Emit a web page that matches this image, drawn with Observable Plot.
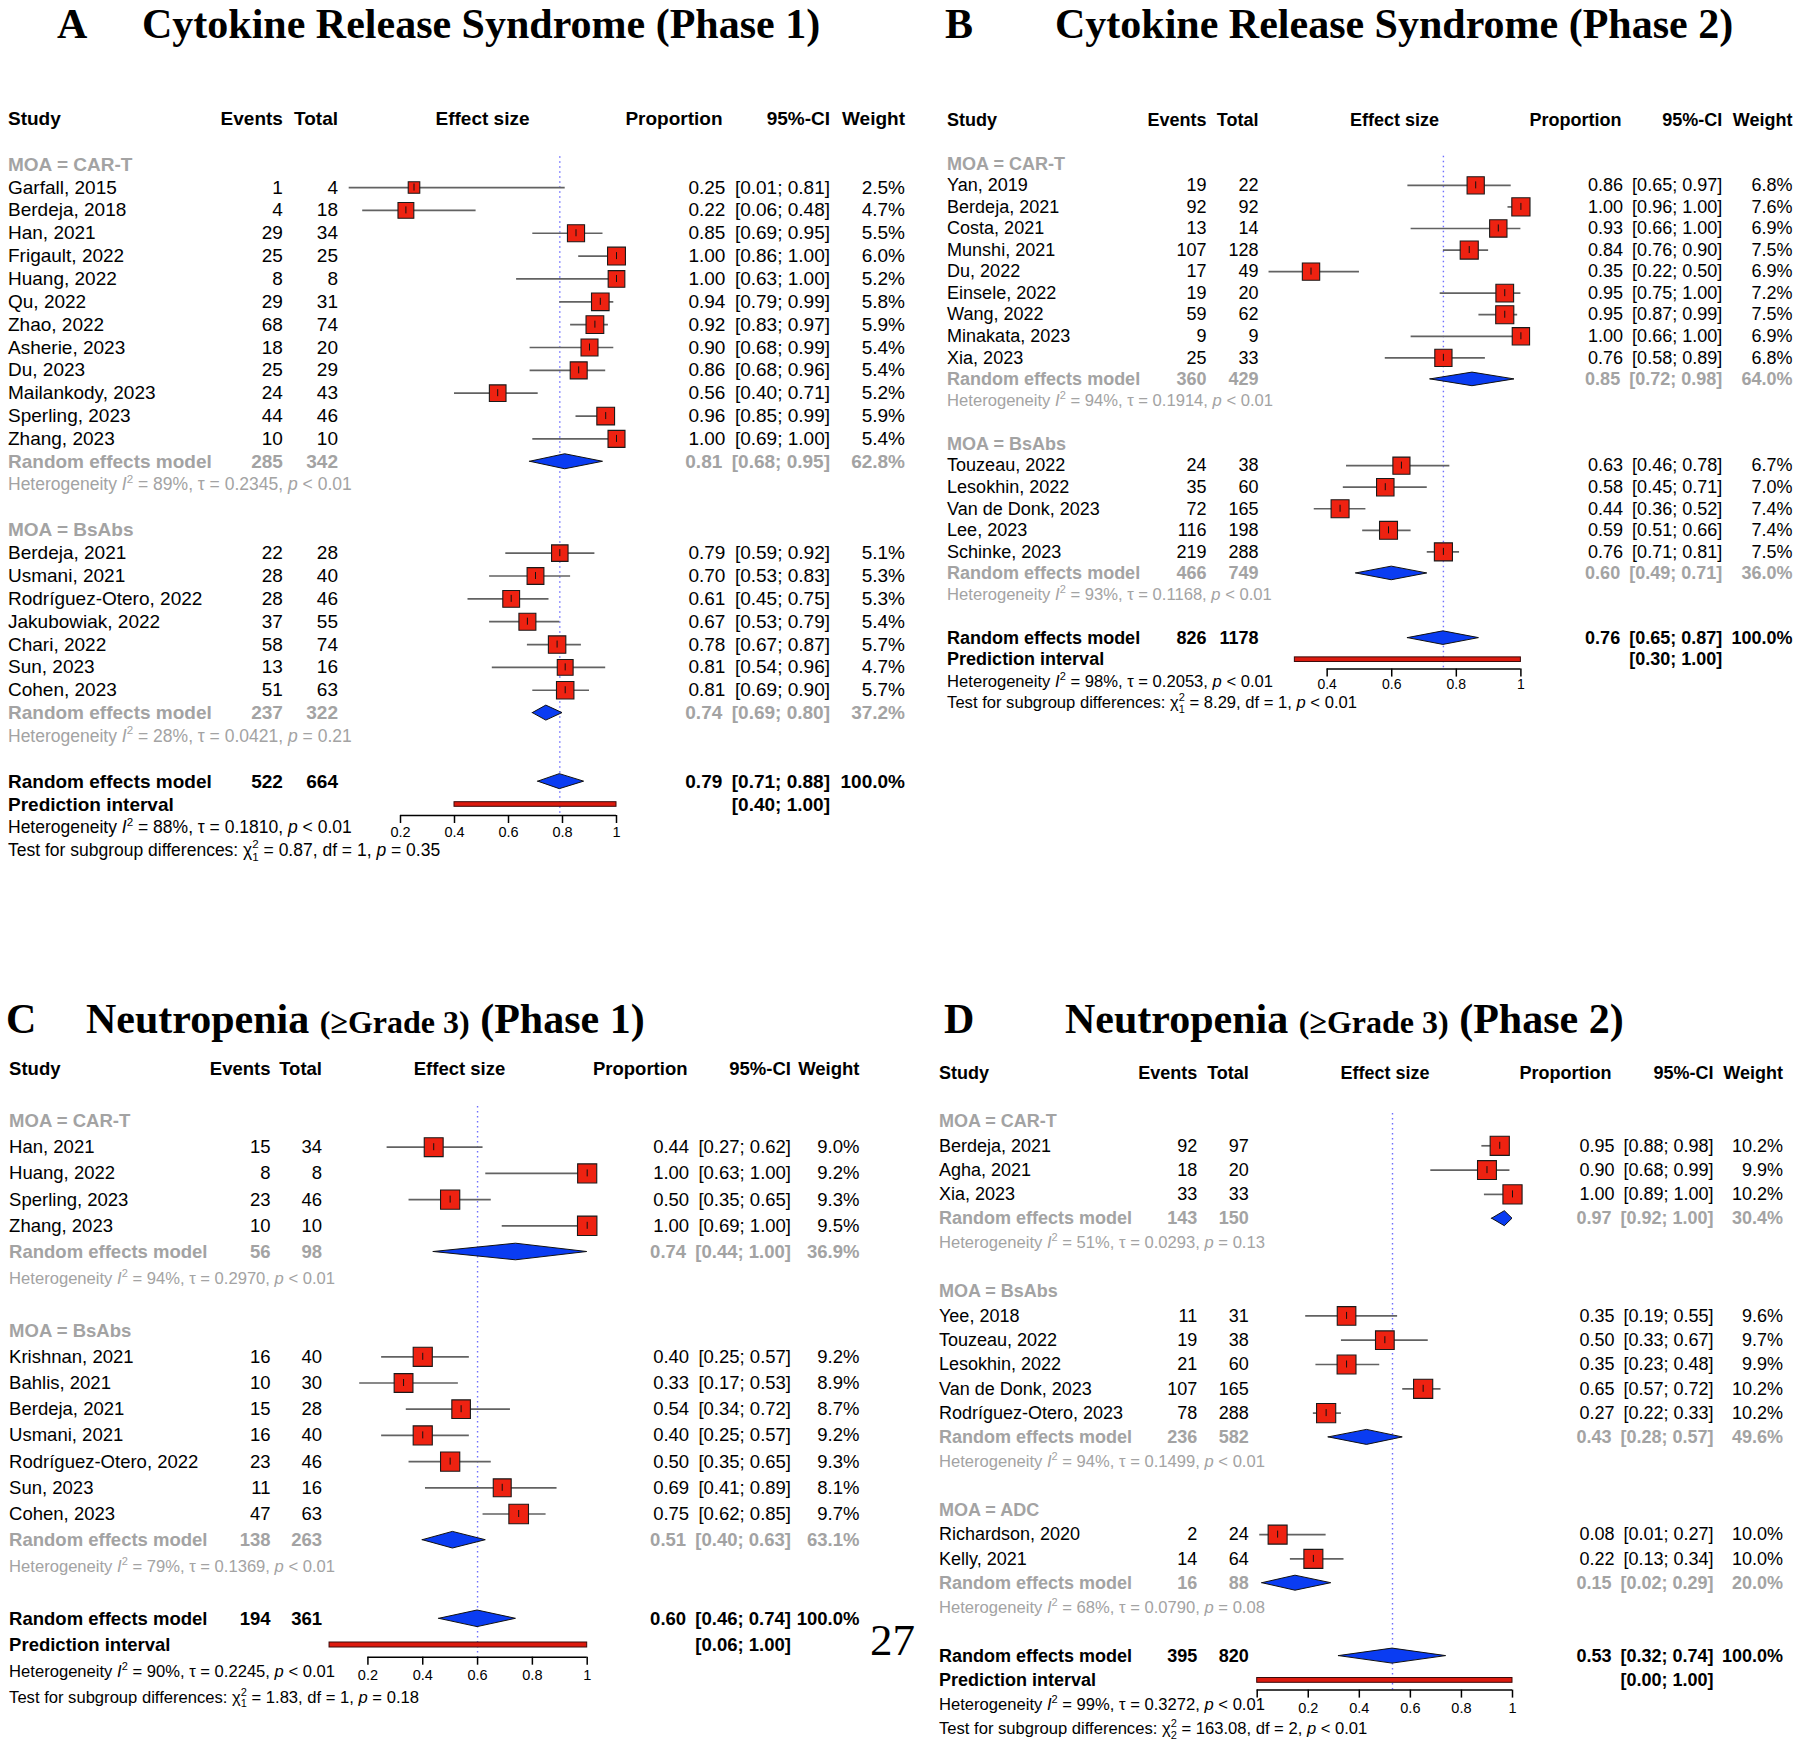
<!DOCTYPE html>
<html>
<head>
<meta charset="utf-8">
<script src="https://cdn.jsdelivr.net/npm/d3@7"></script>
<script src="https://cdn.jsdelivr.net/npm/@observablehq/plot@0.6"></script>
<style>
  body { margin: 0; background: #fff; }
  #page { position: relative; width: 1800px; height: 1746px; overflow: hidden; background: #fff; }
  .ttl { position: absolute; font-family: "Liberation Serif", "Times New Roman", serif; font-weight: bold;
         font-size: 42px; line-height: 38px; white-space: nowrap; color: #000; }
  .pageno { position: absolute; font-family: "Liberation Serif", "Times New Roman", serif; font-size: 45px;
            line-height: 54px; color: #000; }
  .pnl { position: absolute; }
</style>
</head>
<body>
<div id="page"></div>
<script>
// ================= DATA =================
// ---- Panel A: Cytokine Release Syndrome (Phase 1)
const A_study = ["Garfall, 2015","Berdeja, 2018","Han, 2021","Frigault, 2022","Huang, 2022","Qu, 2022","Zhao, 2022","Asherie, 2023","Du, 2023","Mailankody, 2023","Sperling, 2023","Zhang, 2023",
                 "Berdeja, 2021","Usmani, 2021","Rodríguez-Otero, 2022","Jakubowiak, 2022","Chari, 2022","Sun, 2023","Cohen, 2023"];
const A_moa = ["CAR-T","CAR-T","CAR-T","CAR-T","CAR-T","CAR-T","CAR-T","CAR-T","CAR-T","CAR-T","CAR-T","CAR-T",
               "BsAbs","BsAbs","BsAbs","BsAbs","BsAbs","BsAbs","BsAbs"];
const A_events = [1,4,29,25,8,29,68,18,25,24,44,10, 22,28,28,37,58,13,51];
const A_total  = [4,18,34,25,8,31,74,20,29,43,46,10, 28,40,46,55,74,16,63];
const A_prop   = [0.25,0.22,0.85,1.00,1.00,0.94,0.92,0.90,0.86,0.56,0.96,1.00, 0.79,0.70,0.61,0.67,0.78,0.81,0.81];
const A_lower  = [0.01,0.06,0.69,0.86,0.63,0.79,0.83,0.68,0.68,0.40,0.85,0.69, 0.59,0.53,0.45,0.53,0.67,0.54,0.69];
const A_upper  = [0.81,0.48,0.95,1.00,1.00,0.99,0.97,0.99,0.96,0.71,0.99,1.00, 0.92,0.83,0.75,0.79,0.87,0.96,0.90];
const A_weight = [2.5,4.7,5.5,6.0,5.2,5.8,5.9,5.4,5.4,5.2,5.9,5.4, 5.1,5.3,5.3,5.4,5.7,4.7,5.7];
const A_groups = ["CAR-T","BsAbs"];
const A_groupEvents = [285,237], A_groupTotal = [342,322];
const A_groupProp = [0.81,0.74], A_groupLower = [0.68,0.69], A_groupUpper = [0.95,0.80];
const A_groupWeight = [62.8,37.2];
const A_groupI2 = [89,28], A_groupTau = ["0.2345","0.0421"], A_groupP = ["< 0.01","= 0.21"];
const A_overall = [522,664,0.79,0.71,0.88];      // events, total, proportion, lower, upper
const A_predict = [0.40,1.00];
const A_overallHet = [88,"0.1810","< 0.01"];      // I2, tau, p
const A_subgroupTest = ["0.87",1,"= 0.35"];       // chi2, df, p
const A_ticks = [0.2,0.4,0.6,0.8,1];
const A_tickLabels = [0.2,0.4,0.6,0.8,1];

// ---- Panel B: Cytokine Release Syndrome (Phase 2)
const B_study = ["Yan, 2019","Berdeja, 2021","Costa, 2021","Munshi, 2021","Du, 2022","Einsele, 2022","Wang, 2022","Minakata, 2023","Xia, 2023",
                 "Touzeau, 2022","Lesokhin, 2022","Van de Donk, 2023","Lee, 2023","Schinke, 2023"];
const B_moa = ["CAR-T","CAR-T","CAR-T","CAR-T","CAR-T","CAR-T","CAR-T","CAR-T","CAR-T","BsAbs","BsAbs","BsAbs","BsAbs","BsAbs"];
const B_events = [19,92,13,107,17,19,59,9,25, 24,35,72,116,219];
const B_total  = [22,92,14,128,49,20,62,9,33, 38,60,165,198,288];
const B_prop   = [0.86,1.00,0.93,0.84,0.35,0.95,0.95,1.00,0.76, 0.63,0.58,0.44,0.59,0.76];
const B_lower  = [0.65,0.96,0.66,0.76,0.22,0.75,0.87,0.66,0.58, 0.46,0.45,0.36,0.51,0.71];
const B_upper  = [0.97,1.00,1.00,0.90,0.50,1.00,0.99,1.00,0.89, 0.78,0.71,0.52,0.66,0.81];
const B_weight = [6.8,7.6,6.9,7.5,6.9,7.2,7.5,6.9,6.8, 6.7,7.0,7.4,7.4,7.5];
const B_groups = ["CAR-T","BsAbs"];
const B_groupEvents = [360,466], B_groupTotal = [429,749];
const B_groupProp = [0.85,0.60], B_groupLower = [0.72,0.49], B_groupUpper = [0.98,0.71];
const B_groupWeight = [64.0,36.0];
const B_groupI2 = [94,93], B_groupTau = ["0.1914","0.1168"], B_groupP = ["< 0.01","< 0.01"];
const B_overall = [826,1178,0.76,0.65,0.87];
const B_predict = [0.30,1.00];
const B_overallHet = [98,"0.2053","< 0.01"];
const B_subgroupTest = ["8.29",1,"< 0.01"];
const B_ticks = [0.4,0.6,0.8,1];
const B_tickLabels = [0.4,0.6,0.8,1];

// ---- Panel C: Neutropenia (>=Grade 3) (Phase 1)
const C_study = ["Han, 2021","Huang, 2022","Sperling, 2023","Zhang, 2023",
                 "Krishnan, 2021","Bahlis, 2021","Berdeja, 2021","Usmani, 2021","Rodríguez-Otero, 2022","Sun, 2023","Cohen, 2023"];
const C_moa = ["CAR-T","CAR-T","CAR-T","CAR-T","BsAbs","BsAbs","BsAbs","BsAbs","BsAbs","BsAbs","BsAbs"];
const C_events = [15,8,23,10, 16,10,15,16,23,11,47];
const C_total  = [34,8,46,10, 40,30,28,40,46,16,63];
const C_prop   = [0.44,1.00,0.50,1.00, 0.40,0.33,0.54,0.40,0.50,0.69,0.75];
const C_lower  = [0.27,0.63,0.35,0.69, 0.25,0.17,0.34,0.25,0.35,0.41,0.62];
const C_upper  = [0.62,1.00,0.65,1.00, 0.57,0.53,0.72,0.57,0.65,0.89,0.85];
const C_weight = [9.0,9.2,9.3,9.5, 9.2,8.9,8.7,9.2,9.3,8.1,9.7];
const C_groups = ["CAR-T","BsAbs"];
const C_groupEvents = [56,138], C_groupTotal = [98,263];
const C_groupProp = [0.74,0.51], C_groupLower = [0.44,0.40], C_groupUpper = [1.00,0.63];
const C_groupWeight = [36.9,63.1];
const C_groupI2 = [94,79], C_groupTau = ["0.2970","0.1369"], C_groupP = ["< 0.01","< 0.01"];
const C_overall = [194,361,0.60,0.46,0.74];
const C_predict = [0.06,1.00];
const C_overallHet = [90,"0.2245","< 0.01"];
const C_subgroupTest = ["1.83",1,"= 0.18"];
const C_ticks = [0.2,0.4,0.6,0.8,1];
const C_tickLabels = [0.2,0.4,0.6,0.8,1];

// ---- Panel D: Neutropenia (>=Grade 3) (Phase 2)
const D_study = ["Berdeja, 2021","Agha, 2021","Xia, 2023",
                 "Yee, 2018","Touzeau, 2022","Lesokhin, 2022","Van de Donk, 2023","Rodríguez-Otero, 2023",
                 "Richardson, 2020","Kelly, 2021"];
const D_moa = ["CAR-T","CAR-T","CAR-T","BsAbs","BsAbs","BsAbs","BsAbs","BsAbs","ADC","ADC"];
const D_events = [92,18,33, 11,19,21,107,78, 2,14];
const D_total  = [97,20,33, 31,38,60,165,288, 24,64];
const D_prop   = [0.95,0.90,1.00, 0.35,0.50,0.35,0.65,0.27, 0.08,0.22];
const D_lower  = [0.88,0.68,0.89, 0.19,0.33,0.23,0.57,0.22, 0.01,0.13];
const D_upper  = [0.98,0.99,1.00, 0.55,0.67,0.48,0.72,0.33, 0.27,0.34];
const D_weight = [10.2,9.9,10.2, 9.6,9.7,9.9,10.2,10.2, 10.0,10.0];
const D_groups = ["CAR-T","BsAbs","ADC"];
const D_groupEvents = [143,236,16], D_groupTotal = [150,582,88];
const D_groupProp = [0.97,0.43,0.15], D_groupLower = [0.92,0.28,0.02], D_groupUpper = [1.00,0.57,0.29];
const D_groupWeight = [30.4,49.6,20.0];
const D_groupI2 = [51,94,68], D_groupTau = ["0.0293","0.1499","0.0790"], D_groupP = ["= 0.13","< 0.01","= 0.08"];
const D_overall = [395,820,0.53,0.32,0.74];
const D_predict = [0.00,1.00];
const D_overallHet = [99,"0.3272","< 0.01"];
const D_subgroupTest = ["163.08",2,"< 0.01"];
const D_ticks = [0,0.2,0.4,0.6,0.8,1];
const D_tickLabels = [0.2,0.4,0.6,0.8,1];

// ================= STYLE =================
const FONT = '"Liberation Sans", Arial, Helvetica, sans-serif';
const GRAY = "#a3a3a3", RED = "#ee2211", BLUE = "#0a3cf2", DOTC = "#6e6eff", CIC = "#626262";

// ================= HELPERS =================
const f2 = v => v.toFixed(2);
const ciText = (e, l, h) => `${f2(e)}\u2002[${f2(l)}; ${f2(h)}]`;
const hetText = (i2, tau, p) => `Heterogeneity I² = ${i2}%, τ = ${tau}, p ${p}`;
const SUBS = {1: "₁", 2: "₂", 3: "₃"};
const testText = t => `Test for subgroup differences: χ²${SUBS[t[1]]} = ${t[0]}, df = ${t[1]}, p ${t[2]}`;

function panelData(p) {
  const g = n => eval(p + "_" + n);
  return {
    study: g("study"), moa: g("moa"), events: g("events"), total: g("total"), prop: g("prop"),
    lower: g("lower"), upper: g("upper"), weight: g("weight"), groups: g("groups"),
    gEvents: g("groupEvents"), gTotal: g("groupTotal"), gProp: g("groupProp"), gLower: g("groupLower"),
    gUpper: g("groupUpper"), gWeight: g("groupWeight"), gI2: g("groupI2"), gTau: g("groupTau"), gP: g("groupP"),
    overall: g("overall"), predict: g("predict"), het: g("overallHet"), test: g("subgroupTest"),
    ticks: g("ticks"), tickLabels: g("tickLabels")
  };
}

function buildRows(P) {
  const rows = [];
  let r = 0;
  P.groups.forEach((grp, gi) => {
    rows.push({row: r++, kind: "ghead", label: "MOA = " + grp});
    P.study.forEach((s, i) => {
      if (P.moa[i] !== grp) return;
      rows.push({row: r++, kind: "study", label: s, events: P.events[i], total: P.total[i],
        est: P.prop[i], lo: P.lower[i], hi: P.upper[i], w: P.weight[i],
        ci: ciText(P.prop[i], P.lower[i], P.upper[i]), wt: P.weight[i].toFixed(1) + "%"});
    });
    rows.push({row: r++, kind: "gsum", label: "Random effects model", events: P.gEvents[gi], total: P.gTotal[gi],
      est: P.gProp[gi], lo: P.gLower[gi], hi: P.gUpper[gi],
      ci: ciText(P.gProp[gi], P.gLower[gi], P.gUpper[gi]), wt: P.gWeight[gi].toFixed(1) + "%"});
    rows.push({row: r++, kind: "ghet", label: hetText(P.gI2[gi], P.gTau[gi], P.gP[gi])});
    r++; // blank spacer row
  });
  const o = P.overall;
  rows.push({row: r++, kind: "all", label: "Random effects model", events: o[0], total: o[1],
    est: o[2], lo: o[3], hi: o[4], ci: ciText(o[2], o[3], o[4]), wt: "100.0%"});
  rows.push({row: r++, kind: "pred", label: "Prediction interval", lo: P.predict[0], hi: P.predict[1],
    ci: `[${f2(P.predict[0])}; ${f2(P.predict[1])}]`});
  rows.push({row: r++, kind: "het", label: hetText(P.het[0], P.het[1], P.het[2])});
  rows.push({row: r++, kind: "test", label: testText(P.test)});
  return rows;
}

function richify(el, fs) {
  const s = el.textContent;
  const parts = s.split(/(I²|χ²[₁₂₃]|\bp\b)/);
  const NS = "http://www.w3.org/2000/svg";
  el.textContent = "";
  let cur = 0;
  const span = (txt, off, attrs = {}) => {
    const t = document.createElementNS(NS, "tspan");
    t.setAttribute("dy", (off - cur).toFixed(2));
    cur = off;
    for (const k in attrs) t.setAttribute(k, attrs[k]);
    t.textContent = txt;
    el.appendChild(t);
  };
  const small = (0.66 * fs).toFixed(1);
  for (const part of parts) {
    if (!part) continue;
    if (part === "I²") {
      span("I", 0, {"font-style": "italic"});
      span("2", -0.42 * fs, {"font-size": small});
    } else if (part.startsWith("χ²")) {
      const n = {"₁": "1", "₂": "2", "₃": "3"}[part[2]];
      span("χ", 0);
      span("2", -0.42 * fs, {"font-size": small});
      span(n, 0.28 * fs, {"font-size": small, "dx": (-0.37 * fs).toFixed(1)});
    } else if (part === "p") {
      span("p", 0, {"font-style": "italic"});
    } else {
      span(part, 0);
    }
  }
}

function drawPanel(P, L) {
  const rows = buildRows(P);
  const step = L.step;
  const studies = rows.filter(d => d.kind === "study");
  const sums = rows.filter(d => d.kind === "gsum" || d.kind === "all");
  const pred = rows.filter(d => d.kind === "pred");
  const allRow = rows.find(d => d.kind === "all");
  const predRow = pred[0].row;
  const axisRow = predRow + L.axisOff / step;
  const ymin = -3, ymax = rows.length + 1;
  const dh = L.diamondH / step;
  const diamonds = sums.flatMap(d => [
    {id: d.row, x: d.lo, y1: d.row, y2: d.row},
    {id: d.row, x: d.est, y1: d.row - dh, y2: d.row + dh},
    {id: d.row, x: d.hi, y1: d.row, y2: d.row}
  ]);
  const C = L.cols;
  const fs = L.fs, hfs = L.hetFs;
  const col = (data, text, dx, anchor, fill, weight, size) =>
    Plot.text(data, {y: "row", text, frameAnchor: "left", dx, textAnchor: anchor, fill, fontWeight: weight, fontSize: size});
  const numericCols = (data, fill, weight) => [
    col(data, "label", C.study, "start", fill, weight, fs),
    col(data.filter(d => d.events != null), d => String(d.events), C.events, "end", fill, weight, fs),
    col(data.filter(d => d.total != null), d => String(d.total), C.total, "end", fill, weight, fs),
    col(data.filter(d => d.ci != null), "ci", C.ci, "end", fill, weight, fs),
    col(data.filter(d => d.wt != null), "wt", C.weight, "end", fill, weight, fs)
  ];
  const headerRow = [{row: -2}];
  const headers = [
    col(headerRow, () => "Study", C.study, "start", "#000", "bold", fs),
    col(headerRow, () => "Events", C.events, "end", "#000", "bold", fs),
    col(headerRow, () => "Total", C.total, "end", "#000", "bold", fs),
    col(headerRow, () => "Effect size", C.effect, "middle", "#000", "bold", fs),
    col(headerRow, () => "Proportion", C.prop, "end", "#000", "bold", fs),
    col(headerRow, () => "95%-CI", C.ci, "end", "#000", "bold", fs),
    col(headerRow, () => "Weight", C.weight, "end", "#000", "bold", fs)
  ];
  const tickLen = 8 / step;
  const svg = Plot.plot({
    width: L.width, height: L.height, margin: 0,
    style: {fontFamily: FONT, background: "transparent", overflow: "visible"},
    x: {domain: [0, 1], range: L.xRange, axis: null},
    y: {domain: [ymin, ymax], range: [L.row0 + ymin * step, L.row0 + ymax * step], axis: null},
    r: {type: "sqrt", domain: [0, 10], range: [0, L.k * Math.sqrt(10 / Math.PI)]},
    marks: [
      // reference line at overall estimate
      Plot.ruleX([allRow.est], {x: d => d, y1: L.dotTop, y2: axisRow, stroke: DOTC, strokeWidth: 1.4, strokeDasharray: "1.5 3.5"}),
      // confidence intervals
      Plot.ruleY(studies, {y: "row", x1: "lo", x2: "hi", stroke: CIC, strokeWidth: 1.7}),
      // study squares
      Plot.dot(studies, {x: "est", y: "row", r: "w", symbol: "square", fill: RED, stroke: "#1a1a1a", strokeWidth: 1.1}),
      Plot.ruleX(studies, {x: "est", y1: d => d.row - 3.5 / step, y2: d => d.row + 3.5 / step, stroke: "#111", strokeWidth: 1}),
      // diamonds
      Plot.area(diamonds, {x1: "x", y1: "y1", y2: "y2", z: "id", fill: BLUE, stroke: "#111", strokeWidth: 1}),
      // prediction interval
      Plot.rect(pred, {x1: "lo", x2: "hi", y1: d => d.row - L.predH / step, y2: d => d.row + L.predH / step,
        fill: "#dd1a0e", stroke: "#3a0a0a", strokeWidth: 1}),
      // axis
      Plot.ruleY([axisRow], {y: d => d, x1: P.ticks[0], x2: P.ticks[P.ticks.length - 1], stroke: "#000", strokeWidth: 1.5}),
      Plot.ruleX(P.ticks, {x: d => d, y1: axisRow, y2: axisRow + tickLen, stroke: "#000", strokeWidth: 1.5}),
      Plot.text(P.tickLabels, {x: d => d, y: axisRow, dy: L.labelDy, text: d => String(d), fontSize: L.tickFs, fill: "#000"}),
      // table text
      ...headers,
      ...numericCols(studies, "#000", "normal"),
      ...numericCols(rows.filter(d => d.kind === "ghead" || d.kind === "gsum"), GRAY, "bold"),
      ...numericCols(rows.filter(d => d.kind === "all" || d.kind === "pred"), "#000", "bold"),
      col(rows.filter(d => d.kind === "ghet"), "label", C.study, "start", GRAY, "normal", hfs),
      col(rows.filter(d => d.kind === "het" || d.kind === "test"), "label", C.study, "start", "#000", "normal", hfs)
    ]
  });
  svg.querySelectorAll("text").forEach(el => {
    if (/^(Heterogeneity|Test for)/.test(el.textContent)) richify(el, hfs);
  });
  const div = document.createElement("div");
  div.className = "pnl";
  div.style.left = L.left + "px";
  div.style.top = L.top + "px";
  div.appendChild(svg);
  document.getElementById("page").appendChild(div);
}

// ================= LAYOUT =================
const layouts = {
  A: {left: 0, top: 95, width: 915, height: 775, row0: 69.2, step: 22.85, xRange: [346, 616],
      cols: {study: 7.5, events: 282.4, total: 337.5, effect: 482, prop: 722, ci: 829.5, weight: 904.5},
      fs: 19, hetFs: 17.5, tickFs: 14.5, k: 7.3, diamondH: 7.5, predH: 2.3, axisOff: 11, labelDy: 17, dotTop: -0.35},
  B: {left: 920, top: 95, width: 880, height: 625, row0: 68.3, step: 21.56, xRange: [277.5, 600.4],
      cols: {study: 26.6, events: 286, total: 338, effect: 474, prop: 701, ci: 801.7, weight: 872},
      fs: 18, hetFs: 16.6, tickFs: 14, k: 6.6, diamondH: 6.8, predH: 2.3, axisOff: 9.4, labelDy: 15, dotTop: -0.35},
  C: {left: 0, top: 1040, width: 915, height: 690, row0: 80.5, step: 26.2, xRange: [312.6, 586.7],
      cols: {study: 8.6, events: 270, total: 321.5, effect: 459, prop: 687, ci: 790.5, weight: 859},
      fs: 18.5, hetFs: 16.6, tickFs: 14.5, k: 6.3, diamondH: 8.3, predH: 2.5, axisOff: 12.2, labelDy: 18.5, dotTop: -0.55},
  D: {left: 920, top: 1040, width: 880, height: 706, row0: 81, step: 24.3, xRange: [336.7, 592],
      cols: {study: 18.5, events: 276.7, total: 328.3, effect: 464.6, prop: 691, ci: 793, weight: 862.5},
      fs: 18, hetFs: 16.6, tickFs: 14.5, k: 6.0, diamondH: 7.5, predH: 2.4, axisOff: 9.7, labelDy: 18.6, dotTop: -0.33}
};

// ================= TITLES =================
const titles = [
  {letter: "A", letterX: 57, textX: 142, baseline: 38, parts: [["Cytokine Release Syndrome (Phase 1)", 42]]},
  {letter: "B", letterX: 945, textX: 1055, baseline: 38.5, parts: [["Cytokine Release Syndrome (Phase 2)", 42]]},
  {letter: "C", letterX: 6, textX: 86, baseline: 1033, parts: [["Neutropenia ", 42], ["(≥Grade 3)", 32], [" (Phase 1)", 42]]},
  {letter: "D", letterX: 944, textX: 1065, baseline: 1033, parts: [["Neutropenia ", 42], ["(≥Grade 3)", 32], [" (Phase 2)", 42]]}
];

const page = document.getElementById("page");
// baseline offset inside a 38px line box for a 42px Liberation Serif line
const BASE_OFF = (38 - 42 * 1.107) / 2 + 42 * 0.891;
for (const t of titles) {
  const top = t.baseline - BASE_OFF;
  const a = document.createElement("div");
  a.className = "ttl"; a.style.left = t.letterX + "px"; a.style.top = top + "px"; a.textContent = t.letter;
  page.appendChild(a);
  const b = document.createElement("div");
  b.className = "ttl"; b.style.left = t.textX + "px"; b.style.top = top + "px";
  for (const [txt, size] of t.parts) {
    const s = document.createElement("span");
    s.style.fontSize = size + "px";
    s.style.whiteSpace = "pre";
    s.textContent = txt;
    b.appendChild(s);
  }
  page.appendChild(b);
}
const pn = document.createElement("div");
pn.className = "pageno"; pn.style.left = "870px"; pn.style.top = (1655 - 42.2) + "px"; pn.textContent = "27";
page.appendChild(pn);

for (const p of ["A", "B", "C", "D"]) drawPanel(panelData(p), layouts[p]);
</script>
</body>
</html>
